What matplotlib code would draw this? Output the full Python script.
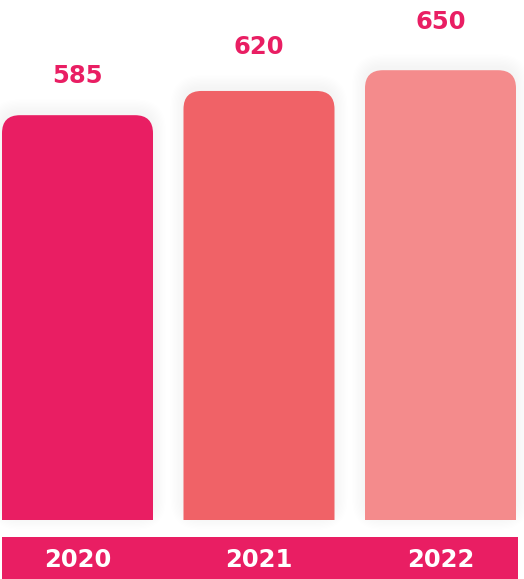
import matplotlib
matplotlib.use("Agg")
import matplotlib.pyplot as plt
from matplotlib.patches import FancyBboxPatch, Rectangle
import matplotlib.transforms as mtransforms

years = ["2020", "2021", "2022"]
values = [585, 620, 650]
colors = ["#E91E63", "#F06267", "#F48B8C"]
pink = "#E91E63"

W, H = 524, 579
fig = plt.figure(figsize=(W/100, H/100), dpi=100)
ax = fig.add_axes([0, 0, 1, 1])
ax.set_axis_off()

# pixel mapping: bar centres 181.5px apart, 0.692 px per unit
px_x = 181.5
px_y = 0.692
x0 = 77.5
base = 59
ax.set_xlim(-x0/px_x, (W - x0)/px_x)
ax.set_ylim(-base/px_y, (H - base)/px_y)

bw = 151/px_x
r = 18/px_x
asp = px_x/px_y

clip = Rectangle((-1, 0), 5, 2000, transform=ax.transData)

# soft shadow + rounded-top bars
for i, v in enumerate(values):
    for k in range(10, 0, -1):
        g = k*1.3
        sh = FancyBboxPatch((i - bw/2 - g/px_x, -g/px_y + 3/px_y), bw + 2*g/px_x, v + 2*g/px_y,
                            boxstyle="round,pad=0,rounding_size=%f" % (r + g/px_x),
                            mutation_aspect=asp, fc="black", ec="none", alpha=0.005, zorder=1)
        ax.add_patch(sh)
    bar = FancyBboxPatch((i - bw/2, -60), bw, v + 60,
                         boxstyle="round,pad=0,rounding_size=%f" % r,
                         mutation_aspect=asp, fc=colors[i], ec="none", zorder=3)
    ax.add_patch(bar)
    bar.set_clip_path(clip)
    off = (39.5 + (v - 585)*0.13)*0.72
    ax.annotate(str(v), (i, v), xytext=(0, off), textcoords="offset points",
                ha="center", va="center", color=pink, fontsize=17.5,
                fontweight="bold", family="DejaVu Sans", zorder=4)

# bottom band with year labels
ax.add_patch(Rectangle((2/W, 0), 516/W, 42/H, transform=ax.transAxes,
                       fc=pink, ec="none", zorder=3))
tr = mtransforms.blended_transform_factory(ax.transData, ax.transAxes)
for i, y in enumerate(years):
    ax.text(i, 19/H, y, transform=tr, ha="center", va="center", color="white",
            fontsize=17.5, fontweight="bold", family="DejaVu Sans", zorder=4)

fig.savefig("out.png", dpi=100, facecolor="white")
